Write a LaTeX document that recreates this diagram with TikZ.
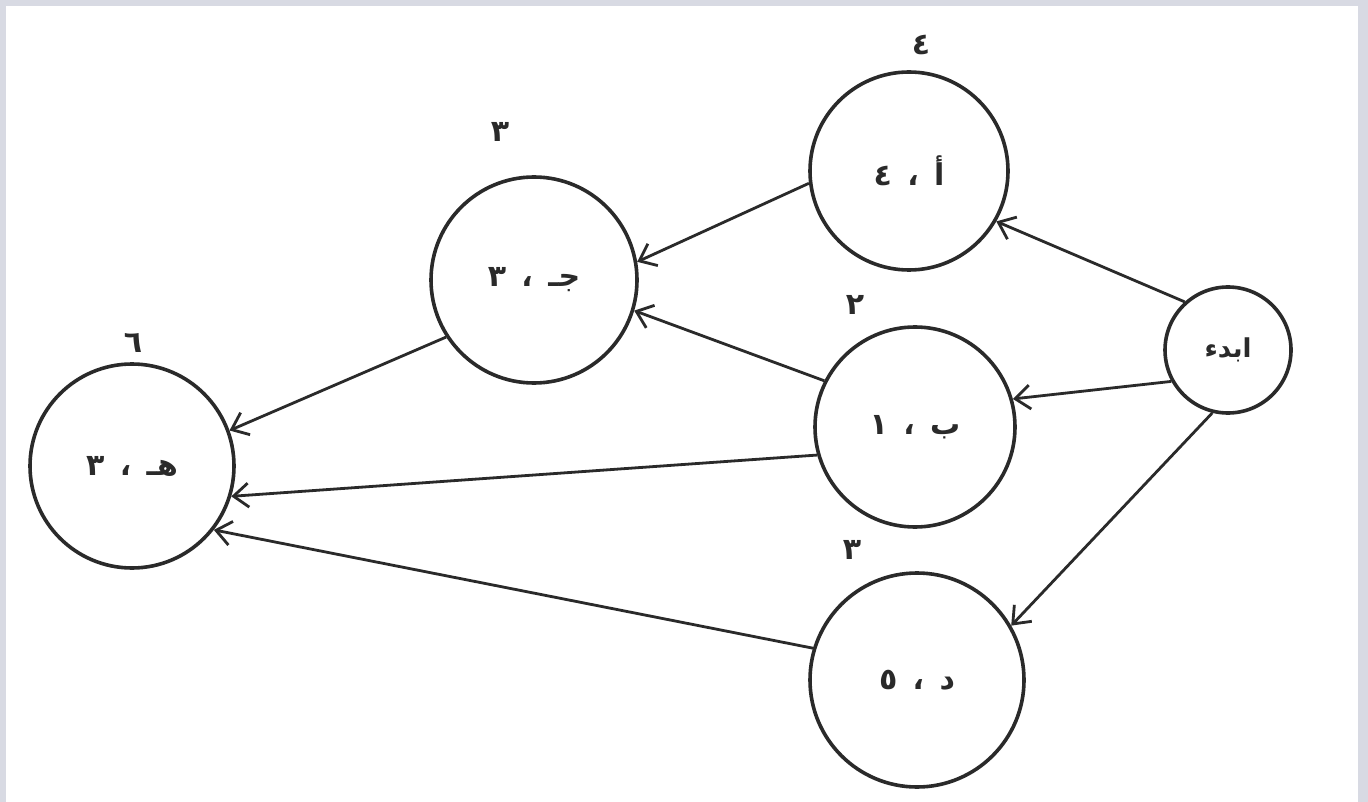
\documentclass[tikz,border=0pt]{standalone}
\usepackage{fontspec}
\usetikzlibrary{arrows.meta}
\newfontfamily\arabicfont[Script=Arabic]{DejaVu Sans}
\TeXXeTstate=1
\definecolor{frame}{HTML}{D8DAE3}
\definecolor{ink}{HTML}{2A2A2A}
\begin{document}
\begin{tikzpicture}[x=1pt,y=-1pt,
  circ/.style={circle,draw=ink,line width=3.6pt,inner sep=0pt,text=ink,
    font=\arabicfont\bfseries\fontsize{30}{34}\selectfont},
  lab/.style={text=ink,font=\arabicfont\bfseries\fontsize{30}{34}\selectfont,inner sep=0pt},
  conn/.style={draw=ink,line width=2.8pt,-{Straight Barb[length=15pt,width=24pt,line width=2.8pt]}}]
\useasboundingbox (0,0) rectangle (1368,802);
\fill[frame] (0,0) rectangle (1368,802);
\fill[white] (6,6) rectangle (1358,802);
% nodes
\node[circ,minimum size=198pt] (A) at (909,171) {\beginR أ \,،\, ٤\endR};
\node[circ,minimum size=206pt] (C) at (534,280) {\beginR جـ \,،\, ٣\endR};
\node[circ,minimum size=204pt] (E) at (132,466) {\beginR هـ \,،\, ٣\endR};
\node[circ,minimum size=200pt] (B) at (915,427) {\beginR ب \,،\, ١\endR};
\node[circ,minimum size=214pt] (D) at (917,680) {\beginR د \,،\, ٥\endR};
\node[circ,minimum size=126pt,font=\arabicfont\bfseries\fontsize{26}{30}\selectfont] (S) at (1228,350) {\beginR ابدء\endR};
% labels
\node[lab] (lA) at (921,45) {٤};
\node[lab] (lC) at (500,132) {٣};
\node[lab] (lB) at (855,305) {٢};
\node[lab] (lE) at (133,343) {٦};
\node[lab] (lD) at (852,550) {٣};
% connectors
\draw[conn] (S.132) -- (A.-30);
\draw[conn] (S.209) -- (B.16);
\draw[conn] (S.256) -- (D.30);
\draw[conn] (A.187) -- (C.10);
\draw[conn] (B.153) -- (C.-17);
\draw[conn] (C.213) -- (E.20);
\draw[conn] (B.196) -- (E.-17);
\draw[conn] (D.163) -- (E.-38);
\end{tikzpicture}
\end{document}
